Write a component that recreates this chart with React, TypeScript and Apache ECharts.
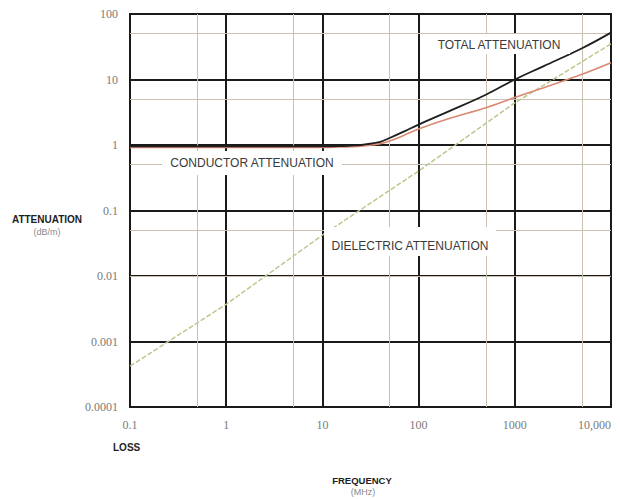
import React, { useEffect, useRef } from "react";
import * as echarts from "echarts";

// Frequency (MHz) and attenuation (dB/m) readings for each curve
const dielectricFreq = [0.1, 1, 10, 100, 1000, 2500, 10000];
const dielectricLoss = [0.00042, 0.0037, 0.042, 0.4, 4.4, 10, 35];

const conductorFreq = [0.1, 1, 10, 15, 20, 25, 30, 40, 50, 70, 100, 200, 500, 1000, 2000, 5000, 10000];
const conductorLoss = [0.92, 0.92, 0.92, 0.93, 0.94, 0.96, 0.98, 1.05, 1.15, 1.4, 1.76, 2.5, 3.7, 5.3, 7.5, 12, 18];

const totalFreq = [0.1, 1, 10, 15, 20, 25, 30, 40, 50, 70, 100, 200, 500, 1000, 2000, 5000, 10000];
const totalLoss = [0.95, 0.95, 0.95, 0.96, 0.98, 1.0, 1.04, 1.12, 1.28, 1.6, 2.05, 3.2, 5.85, 10, 16, 30, 52];

// Tick labels, indexed by decade exponent
const xTickLabels: Record<number, string> = { [-1]: "0.1", 0: "1", 1: "10", 2: "100", 3: "1000", 4: "10,000" };
const yTickLabels: Record<number, string> = {
  [-4]: "0.0001", [-3]: "0.001", [-2]: "0.01", [-1]: "0.1", 0: "1", 1: "10", 2: "100",
};

// Intermediate (5x) grid lines
const xMinorLines = [0.5, 5, 50, 500, 5000];
const yMinorLines = [0.0005, 0.005, 0.05, 0.5, 5, 50];

const pairs = (xs: number[], ys: number[]) => xs.map((x, i) => [x, ys[i]]);

export default function App() {
  const ref = useRef<HTMLDivElement>(null);

  useEffect(() => {
    document.body.style.margin = "0";
    const chart = echarts.init(ref.current!, undefined, { renderer: "svg" });
    const tickFont = { fontFamily: "Liberation Serif, serif", fontSize: 12, color: "#7a7a7a" };
    const minorStyle = { color: "#c9c0b3", width: 1, type: "solid" as const };
    const noteFont = "12px Liberation Sans, Arial, sans-serif";

    chart.setOption({
      animation: false,
      backgroundColor: "#ffffff",
      grid: { left: 130, right: 9, top: 14, bottom: 92, show: true, borderColor: "#1a1a1a", borderWidth: 2 },
      xAxis: {
        type: "log",
        logBase: 10,
        min: 0.1,
        max: 10000,
        interval: 1,
        axisLine: { show: true, lineStyle: { color: "#1a1a1a", width: 2 } },
        axisTick: { show: false },
        splitLine: { show: true, lineStyle: { color: "#1a1a1a", width: 2 } },
        axisLabel: {
          ...tickFont,
          margin: 12,
          alignMaxLabel: "right",
          formatter: (v: number) => xTickLabels[Math.round(Math.log10(v))] ?? "",
        },
      },
      yAxis: {
        type: "log",
        logBase: 10,
        min: 0.0001,
        max: 100,
        interval: 1,
        axisLine: { show: true, lineStyle: { color: "#1a1a1a", width: 2 } },
        axisTick: { show: false },
        splitLine: { show: true, lineStyle: { color: "#1a1a1a", width: 2 } },
        axisLabel: {
          ...tickFont,
          margin: 12,
          formatter: (v: number) => yTickLabels[Math.round(Math.log10(v))] ?? "",
        },
      },
      series: [
        {
          type: "line",
          name: "grid",
          data: [],
          silent: true,
          z: 1,
          markLine: {
            silent: true,
            z: 1,
            symbol: "none",
            label: { show: false },
            lineStyle: minorStyle,
            data: [
              ...xMinorLines.map((x) => ({ xAxis: x })),
              ...yMinorLines.map((y) => ({ yAxis: y })),
            ],
          },
        },
        {
          type: "line",
          name: "Dielectric",
          data: pairs(dielectricFreq, dielectricLoss),
          showSymbol: false,
          z: 3,
          lineStyle: { color: "#bcc78e", width: 1.5, type: [5, 2] },
        },
        {
          type: "line",
          name: "Conductor",
          data: pairs(conductorFreq, conductorLoss),
          showSymbol: false,
          smooth: 0.4,
          z: 3,
          lineStyle: { color: "#d98a72", width: 1.6 },
        },
        {
          type: "line",
          name: "Total",
          data: pairs(totalFreq, totalLoss),
          showSymbol: false,
          smooth: 0.4,
          z: 4,
          lineStyle: { color: "#1e1e1e", width: 1.8 },
        },
      ],
      graphic: [
        {
          type: "rect",
          z: 10,
          shape: { x: 430, y: 34, width: 140, height: 20 },
          style: { fill: "#ffffff" },
        },
        {
          type: "text",
          z: 11,
          x: 499,
          y: 45,
          style: { text: "TOTAL ATTENUATION", font: noteFont, fill: "#3a3a3a", textAlign: "center", textVerticalAlign: "middle" },
        },
        {
          type: "rect",
          z: 10,
          shape: { x: 162, y: 151, width: 180, height: 24 },
          style: { fill: "#ffffff" },
        },
        {
          type: "text",
          z: 11,
          x: 252,
          y: 163,
          style: { text: "CONDUCTOR ATTENUATION", font: noteFont, fill: "#3a3a3a", textAlign: "center", textVerticalAlign: "middle" },
        },
        {
          type: "rect",
          z: 10,
          shape: { x: 324, y: 227, width: 172, height: 29 },
          style: { fill: "#ffffff" },
        },
        {
          type: "text",
          z: 11,
          x: 410,
          y: 246,
          style: { text: "DIELECTRIC ATTENUATION", font: noteFont, fill: "#3a3a3a", textAlign: "center", textVerticalAlign: "middle" },
        },
        {
          type: "text",
          x: 47,
          y: 219,
          style: {
            text: "ATTENUATION",
            font: "bold 10px Liberation Sans, Arial, sans-serif",
            fill: "#1e1e1e",
            textAlign: "center",
            textVerticalAlign: "middle",
          },
        },
        {
          type: "text",
          x: 47,
          y: 232,
          style: {
            text: "(dB/m)",
            font: "9px Liberation Sans, Arial, sans-serif",
            fill: "#8a8a8a",
            textAlign: "center",
            textVerticalAlign: "middle",
          },
        },
        {
          type: "text",
          x: 113,
          y: 447,
          style: {
            text: "LOSS",
            font: "bold 10px Liberation Sans, Arial, sans-serif",
            fill: "#1e1e1e",
            textAlign: "left",
            textVerticalAlign: "middle",
          },
        },
        {
          type: "text",
          x: 362,
          y: 480,
          style: {
            text: "FREQUENCY",
            font: "bold 9.5px Liberation Sans, Arial, sans-serif",
            fill: "#1e1e1e",
            textAlign: "center",
            textVerticalAlign: "middle",
          },
        },
        {
          type: "text",
          x: 363,
          y: 492,
          style: {
            text: "(MHz)",
            font: "9px Liberation Sans, Arial, sans-serif",
            fill: "#8a8a8a",
            textAlign: "center",
            textVerticalAlign: "middle",
          },
        },
      ],
    });

    return () => chart.dispose();
  }, []);

  return <div ref={ref} style={{ width: 620, height: 499 }} />;
}
